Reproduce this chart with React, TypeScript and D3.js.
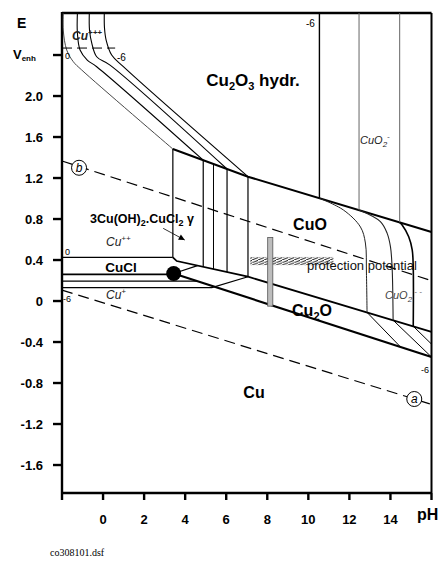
import React from 'react';
import * as d3 from 'd3';

type Pt = [number, number];

// ---- axes ----
const phTicks = [-2, 0, 2, 4, 6, 8, 10, 12, 14, 16];
const phTickLabels = ['', '0', '2', '4', '6', '8', '10', '12', '14', ''];
const eTicks = [2.4, 2.0, 1.6, 1.2, 0.8, 0.4, 0, -0.4, -0.8, -1.2, -1.6];
const eTickLabels = ['', '2.0', '1.6', '1.2', '0.8', '0.4', '0', '-0.4', '-0.8', '-1.2', '-1.6'];

// ---- Cu+++ / Cu2O3 / Cu++ boundaries, log activity 0, -2, -4, -6 ----
const cu3Bound0: Pt[] = [[-1.94, 2.81], [-1.94, 2.644], [-1.77, 2.449], [-1.45, 2.335], [-1.04, 2.254], [3.4, 1.483]];
const cu3Bound2: Pt[] = [[-1.25, 2.81], [-1.25, 2.615], [-1.12, 2.449], [-0.77, 2.351], [-0.31, 2.286], [4.88, 1.374]];
const cu3Bound4: Pt[] = [[-0.67, 2.81], [-0.66, 2.644], [-0.55, 2.517], [-0.31, 2.383], [0.34, 2.302], [6.04, 1.288]];
const cu3Bound6: Pt[] = [[0.06, 2.81], [0.07, 2.663], [0.15, 2.546], [0.42, 2.4], [0.99, 2.286], [7.06, 1.213]];
const cu3Horizontal: Pt[] = [[-2, 2.468], [0.59, 2.468]];

// ---- main boundaries ----
const cu2o3Lower: Pt[] = [[3.4, 1.483], [7.06, 1.213], [16, 0.674]];
const cuoLower: Pt[] = [[3.4, 0.426], [3.59, 0.39], [7.06, 0.237], [16, -0.3]];
const cu2oLower: Pt[] = [[3.44, 0.268], [16, -0.546]];
const cuclUpper: Pt[] = [[-2, 0.426], [3.4, 0.426]];
const cuclLower: Pt[] = [[-2, 0.26], [3.44, 0.26]];
const cuPlus0: Pt[] = [[-2, 0.195], [4.57, 0.195]];
const cuPlus6: Pt[] = [[-2, 0.13], [5.3, 0.13], [7.06, 0.237]];
const triplePointBranch: Pt[] = [[3.44, 0.268], [4.6, 0.345]];

// Cu++ / CuO verticals (pH)
const cuoVerticals = [3.4, 4.88, 5.38, 6.04, 7.06];
// Cu2O3 / CuO2- verticals (pH)
const upperVerticals = [10.54, 12.47, 14.45];

// CuO / CuO2-- boundaries
const cuo2CurveA: Pt[] = [[10.54, 1.003], [11.71, 0.888], [12.54, 0.722], [12.78, 0.566], [12.83, 0.273], [12.86, -0.111]];
const cuo2CurveB: Pt[] = [[12.47, 0.887], [13.51, 0.774], [13.84, 0.66], [14.0, 0.53], [14.08, 0.335], [14.13, -0.187]];
const cuo2CurveC: Pt[] = [[14.45, 0.767], [14.57, 0.741], [14.89, 0.627], [15.06, 0.498], [15.11, 0.335], [15.11, -0.246]];
// Cu2O / CuO2-- boundaries
const cu2oDiag1: Pt[] = [[12.86, -0.111], [14.49, -0.448]];
const cu2oDiag2: Pt[] = [[14.13, -0.187], [16, -0.546]];
const cu2oDiag3: Pt[] = [[15.11, -0.246], [16, -0.42]];

// water stability lines
const waterB: Pt[] = [[-2, 1.366], [16, 0.198]];
const waterA: Pt[] = [[-2, 0.107], [16, -1.008]];
const markB: Pt = [-1.17, 1.3];
const markA: Pt = [15.16, -0.956];

// CuCl / Cu2O / Cu triple point
const triplePoint: Pt = [3.44, 0.268];

// protection potential band and measured range bar
const protectionPh = [7.17, 11.22];
const protectionE = [0.35, 0.43];
const measuredPh = [8.02, 8.27];
const measuredE = [-0.05, 0.62];

const FONT = 'Liberation Sans, Arial, Helvetica, sans-serif';

export default function App() {
  const x = d3.scaleLinear().domain([-2, 16]).range([62, 431.5]);
  const y = d3.scaleLinear().domain([-1.873, 2.81]).range([493, 13]);
  const line = d3.line<Pt>().x(d => x(d[0])).y(d => y(d[1]));
  const smooth = d3.line<Pt>().x(d => x(d[0])).y(d => y(d[1])).curve(d3.curveCatmullRom.alpha(0.5));

  const interp = (poly: Pt[], ph: number) => {
    for (let i = 0; i < poly.length - 1; i++) {
      const [a, b] = [poly[i], poly[i + 1]];
      if (ph >= a[0] && ph <= b[0]) {
        return a[1] + ((ph - a[0]) / (b[0] - a[0])) * (b[1] - a[1]);
      }
    }
    return poly[poly.length - 1][1];
  };

  const x0 = x(-2), x1 = x(16), yTop = y(2.81), yBot = y(-1.873);

  // arrow for the basic chloride label
  const arrowFrom: Pt = [2.93, 0.709];
  const arrowTo: Pt = [3.98, 0.595];
  const ax = x(arrowTo[0]), ay = y(arrowTo[1]);
  const ang = Math.atan2(ay - y(arrowFrom[1]), ax - x(arrowFrom[0]));
  const ah = 6, aw = 3;
  const arrowHead = [
    [ax, ay],
    [ax - ah * Math.cos(ang) + aw * Math.sin(ang), ay - ah * Math.sin(ang) - aw * Math.cos(ang)],
    [ax - ah * Math.cos(ang) - aw * Math.sin(ang), ay - ah * Math.sin(ang) + aw * Math.cos(ang)],
  ].map(p => p.join(',')).join(' ');

  const dash = '11,6';

  return (
    <svg width={439} height={563} style={{ position: 'absolute', left: 0, top: 0, background: '#fff' }}
      fontFamily={FONT}>
      <defs>
        <pattern id="hatch" patternUnits="userSpaceOnUse" width={6} height={2.6}>
          <line x1={0} y1={2.6} x2={6} y2={0.3} stroke="#111" strokeWidth={0.9} />
        </pattern>
      </defs>

      {/* frame */}
      <line x1={x0} y1={yTop} x2={x1} y2={yTop} stroke="#000" strokeWidth={2.6} />
      <line x1={x1} y1={yTop} x2={x1} y2={yBot} stroke="#000" strokeWidth={2} />
      <line x1={x0} y1={yTop - 1} x2={x0} y2={yBot} stroke="#000" strokeWidth={2.4} />
      <line x1={x0} y1={yBot} x2={x1} y2={yBot} stroke="#000" strokeWidth={2.4} />

      {/* y ticks */}
      {eTicks.map((t, i) => (
        <g key={'ey' + t}>
          <line x1={x0 - 9} x2={x0} y1={y(t)} y2={y(t)} stroke="#000" strokeWidth={2.4} />
          <text x={43} y={y(t)} dy="0.35em" textAnchor="end" fontWeight="bold" fontSize={13}>{eTickLabels[i]}</text>
        </g>
      ))}
      <text x={17} y={28} fontWeight="bold" fontSize={14}>E</text>
      <text x={13} y={y(2.4) + 4} fontWeight="bold" fontSize={13}>V<tspan fontSize={8} dy={2}>enh</tspan></text>

      {/* x ticks */}
      {phTicks.map((t, i) => (
        <g key={'px' + t}>
          <line x1={x(t)} x2={x(t)} y1={yBot} y2={yBot + 7} stroke="#000" strokeWidth={2.4} />
          <text x={x(t)} y={524} textAnchor="middle" fontWeight="bold" fontSize={13}>{phTickLabels[i]}</text>
        </g>
      ))}
      <text x={417} y={520} fontWeight="bold" fontSize={16}>pH</text>
      <text x={50} y={556} fontFamily="Liberation Serif, Times New Roman, serif" fontSize={10}>co308101.dsf</text>

      {/* water lines */}
      <path d={line(waterB) || ''} fill="none" stroke="#000" strokeWidth={1.2} strokeDasharray={dash} />
      <path d={line(waterA) || ''} fill="none" stroke="#000" strokeWidth={1.2} strokeDasharray={dash} />

      {/* protection potential band */}
      <rect x={x(protectionPh[0])} width={x(protectionPh[1]) - x(protectionPh[0])}
        y={y(protectionE[1])} height={y(protectionE[0]) - y(protectionE[1])} fill="url(#hatch)" />

      {/* Cu+++ region */}
      {[cu3Bound0, cu3Bound2, cu3Bound4, cu3Bound6].map((b, i) => (
        <path key={'c3' + i} d={smooth(b) || ''} fill="none" stroke={i === 0 ? '#333' : '#000'} strokeWidth={i === 0 ? 0.9 : 1.1} />
      ))}
      <path d={line(cu3Horizontal) || ''} fill="none" stroke="#000" strokeWidth={1} strokeDasharray="10,5" />

      {/* Cu2O3 hydr. lower boundary */}
      <path d={line(cu2o3Lower) || ''} fill="none" stroke="#000" strokeWidth={2} />
      {/* CuO lower boundary */}
      <path d={line(cuoLower) || ''} fill="none" stroke="#000" strokeWidth={1.8} />
      {/* Cu2O / Cu */}
      <path d={line(cu2oLower) || ''} fill="none" stroke="#000" strokeWidth={2.2} />
      {/* CuCl */}
      <path d={line(cuclUpper) || ''} fill="none" stroke="#000" strokeWidth={1.3} />
      <path d={line(cuclLower) || ''} fill="none" stroke="#000" strokeWidth={1.8} />
      <path d={line(cuPlus0) || ''} fill="none" stroke="#000" strokeWidth={1.2} />
      <path d={line(cuPlus6) || ''} fill="none" stroke="#000" strokeWidth={1.2} />
      <path d={line(triplePointBranch) || ''} fill="none" stroke="#000" strokeWidth={1.2} />

      {cuoVerticals.map((p, i) => (
        <line key={'cv' + p} x1={x(p)} x2={x(p)} y1={y(interp(cu2o3Lower, p))} y2={y(interp(cuoLower, p))}
          stroke="#000" strokeWidth={i === 2 ? 1 : 1.2} />
      ))}
      {upperVerticals.map((p, i) => (
        <line key={'uv' + p} x1={x(p)} x2={x(p)} y1={yTop} y2={y(interp(cu2o3Lower, p))}
          stroke={i === 0 ? '#000' : '#666'} strokeWidth={i === 0 ? 1.4 : 1} />
      ))}

      <path d={smooth(cuo2CurveA) || ''} fill="none" stroke="#222" strokeWidth={1} />
      <path d={smooth(cuo2CurveB) || ''} fill="none" stroke="#222" strokeWidth={1.1} />
      <path d={smooth(cuo2CurveC) || ''} fill="none" stroke="#000" strokeWidth={1.6} />
      {[cu2oDiag1, cu2oDiag2, cu2oDiag3].map((d, i) => (
        <path key={'dg' + i} d={line(d) || ''} fill="none" stroke="#000" strokeWidth={1} />
      ))}

      {/* measured potential range */}
      <rect x={x(measuredPh[0])} width={x(measuredPh[1]) - x(measuredPh[0])}
        y={y(measuredE[1])} height={y(measuredE[0]) - y(measuredE[1])} fill="#bdbdbd" stroke="#555" strokeWidth={0.8} />

      {/* triple point */}
      <circle cx={x(triplePoint[0])} cy={y(triplePoint[1])} r={7.5} fill="#000" />

      {/* water line markers */}
      <circle cx={x(markB[0])} cy={y(markB[1])} r={7.5} fill="#fff" stroke="#000" strokeWidth={1} />
      <text x={x(markB[0])} y={y(markB[1])} dy="0.35em" textAnchor="middle" fontStyle="italic" fontSize={12}>b</text>
      <circle cx={x(markA[0])} cy={y(markA[1])} r={7.5} fill="#fff" stroke="#000" strokeWidth={1} />
      <text x={x(markA[0])} y={y(markA[1])} dy="0.35em" textAnchor="middle" fontStyle="italic" fontSize={12}>a</text>

      {/* arrow */}
      <line x1={x(arrowFrom[0])} y1={y(arrowFrom[1])} x2={ax} y2={ay} stroke="#000" strokeWidth={0.8} />
      <polygon points={arrowHead} fill="#000" />

      {/* region labels */}
      <text x={253} y={86} textAnchor="middle" fontWeight="bold" fontSize={17}>
        Cu<tspan fontSize={11} dy={4}>2</tspan><tspan dy={-4}>O</tspan><tspan fontSize={11} dy={4}>3</tspan><tspan dy={-4}> hydr.</tspan>
      </text>
      <text x={310} y={230} textAnchor="middle" fontWeight="bold" fontSize={16}>CuO</text>
      <text x={312} y={316} textAnchor="middle" fontWeight="bold" fontSize={16}>
        Cu<tspan fontSize={11} dy={4}>2</tspan><tspan dy={-4}>O</tspan>
      </text>
      <text x={254} y={398} textAnchor="middle" fontWeight="bold" fontSize={16}>Cu</text>
      <text x={121} y={272} textAnchor="middle" fontWeight="bold" fontSize={13.5}>CuCl</text>
      <text x={142} y={223} textAnchor="middle" fontWeight="bold" fontSize={12.5}>
        3Cu(OH)<tspan fontSize={9} dy={3}>2</tspan><tspan dy={-3}>.CuCl</tspan><tspan fontSize={9} dy={3}>2</tspan><tspan dy={-3}> γ</tspan>
      </text>
      <text x={106} y={246} fontStyle="italic" fontSize={12} fill="#222">Cu<tspan fontSize={8} dy={-5}>++</tspan></text>
      <text x={106} y={299} fontStyle="italic" fontSize={12} fill="#222">Cu<tspan fontSize={8} dy={-5}>+</tspan></text>
      <text x={72} y={40} fontStyle="italic" fontWeight="bold" fontSize={12} fill="#222">Cu<tspan fontSize={8} dy={-5}>+++</tspan></text>
      <text x={360} y={144} fontStyle="italic" fontSize={11} fill="#222">CuO<tspan fontSize={8} dy={3}>2</tspan><tspan fontSize={8} dy={-8}>-</tspan></text>
      <text x={385} y={299} fontStyle="italic" fontSize={11} fill="#444">CuO<tspan fontSize={8} dy={3}>2</tspan><tspan fontSize={8} dy={-8}> - -</tspan></text>
      <text x={307} y={270} fontSize={13} fill="#111">protection potential</text>

      {/* activity labels */}
      <text x={65} y={59} fontSize={9}>0</text>
      <text x={117} y={61} fontSize={10}>-6</text>
      <text x={306} y={27} fontSize={10}>-6</text>
      <text x={65} y={255} fontSize={9}>0</text>
      <text x={63} y={302} fontSize={9}>-6</text>
      <text x={421} y={373} fontSize={9}>-6</text>
    </svg>
  );
}
